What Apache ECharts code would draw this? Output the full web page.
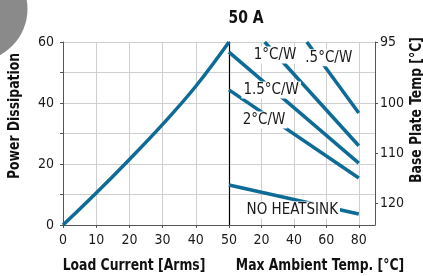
<!DOCTYPE html>
<html>
<head>
<meta charset="utf-8">
<script src="https://cdn.jsdelivr.net/npm/echarts@6/dist/echarts.min.js"></script>
<style>
  html, body { margin: 0; padding: 0; background: #fff; }
  #chart { width: 423px; height: 276px; }
</style>
</head>
<body>
<div id="chart"></div>
<script>
// curva de disipacion (corriente de carga -> potencia)
const loadCurrent = [0, 10, 20, 30, 40, 50];
const powerDiss = [0, 10.5, 21.5, 33, 45.5, 60];

// rectas de derating [temp ambiente, potencia]
const halfCW = [[48, 60], [80, 36.7]];
const oneCW = [[22, 60], [80, 26]];
const oneHalfCW = [[0, 56.7], [80, 20.3]];
const twoCW = [[0, 44.3], [80, 15.4]];
const noSink = [[0, 13.1], [80, 3.6]];

// eje derecho: temperatura de placa base
const baseTempLabels = ['95', '100', '110', '120'];
const baseTempAt = [60, 40, 23.5, 7];

const FONT = '"DejaVu Sans Condensed", "Liberation Sans Narrow", sans-serif';
const BLUE = '#0e6b96';
const GRID = '#cfcfcf';

var myChart = echarts.init(document.getElementById('chart'));

function lineaDerating(data, texto, pos) {
    return {
        type: 'line',
        xAxisIndex: 1,
        yAxisIndex: 1,
        data: data,
        symbol: 'none',
        lineStyle: { color: BLUE, width: 3.5 },
        markPoint: {
            symbol: 'rect',
            symbolSize: 1,
            itemStyle: { color: 'rgba(0,0,0,0)' },
            label: {
                show: true,
                position: 'inside',
                formatter: texto,
                color: '#1a1a1a',
                fontFamily: FONT,
                fontSize: 15,
                backgroundColor: '#fff',
                padding: [1, 2]
            },
            data: [{ coord: pos }]
        }
    };
}

// titulos de ejes, algo comprimidos para imitar la fuente condensada
function titulo(texto, x, y, rot, size) {
    return {
        type: 'text', x: x, y: y, rotation: rot || 0, scaleX: 0.86,
        style: { text: texto, font: 'bold ' + (size || 16) + 'px ' + FONT, fill: '#111', align: 'center', verticalAlign: 'middle' }
    };
}

var option = {
    animation: false,
    textStyle: { fontFamily: FONT },
    graphic: [
        { type: 'circle', shape: { cx: -25, cy: 9, r: 52.5 }, style: { fill: '#8a8a8a' }, z: -1 },
        titulo('50 A', 246, 18, 0, 18),
        titulo('Load Current [Arms]', 134, 266),
        titulo('Max Ambient Temp. [°C]', 320, 266),
        titulo('Power Dissipation', 15, 116, Math.PI / 2),
        titulo('Base Plate Temp [°C]', 417, 110, Math.PI / 2)
    ],
    grid: [
        { left: 63, top: 42, width: 166, height: 183 },
        { left: 229, top: 42, width: 146, height: 183 }
    ],
    xAxis: [
        {
            gridIndex: 0, type: 'value', min: 0, max: 50, interval: 10,
            axisLine: { lineStyle: { color: '#555' } },
            axisTick: { show: true, length: 3, lineStyle: { color: '#555' } },
            axisLabel: { fontSize: 14, color: '#1a1a1a', margin: 8 },
            splitLine: { lineStyle: { color: GRID } }
        },
        {
            gridIndex: 1, type: 'value', min: 0, max: 90, interval: 20,
            axisLine: { lineStyle: { color: '#555' } },
            axisTick: { show: true, length: 3, lineStyle: { color: '#555' } },
            axisLabel: { fontSize: 14, color: '#1a1a1a', margin: 8, showMinLabel: false, showMaxLabel: false },
            splitLine: { lineStyle: { color: GRID } }
        }
    ],
    yAxis: [
        {
            gridIndex: 0, type: 'value', min: 0, max: 60, interval: 10,
            axisLine: { show: true, lineStyle: { color: '#555' } },
            axisTick: { show: true, length: 3, lineStyle: { color: '#555' } },
            axisLabel: {
                fontSize: 14, color: '#1a1a1a', margin: 9,
                formatter: v => (v % 20 === 0 ? String(v) : '')
            },
            splitLine: { lineStyle: { color: GRID } }
        },
        {
            gridIndex: 1, type: 'value', min: 0, max: 60, interval: 10,
            axisLine: { show: true, lineStyle: { color: '#000', width: 1.2 } },
            axisTick: { show: false },
            axisLabel: { show: false },
            splitLine: { lineStyle: { color: GRID } }
        },
        {
            gridIndex: 1, type: 'value', min: 0, max: 60, position: 'right',
            axisLine: { show: true, lineStyle: { color: '#555' } },
            axisTick: { show: true, length: 3, customValues: baseTempAt, lineStyle: { color: '#555' } },
            axisLabel: {
                fontSize: 14, color: '#1a1a1a', margin: 5,
                customValues: baseTempAt,
                formatter: v => baseTempLabels[baseTempAt.indexOf(v)]
            },
            splitLine: { show: false }
        }
    ],
    series: [
        {
            type: 'line',
            xAxisIndex: 0,
            yAxisIndex: 0,
            data: loadCurrent.map((c, i) => [c, powerDiss[i]]),
            smooth: 0.4,
            symbol: 'none',
            lineStyle: { color: BLUE, width: 3.5 }
        },
        lineaDerating(halfCW, '.5°C/W', [61.5, 54.8]),
        lineaDerating(oneCW, '1°C/W', [28.4, 55.7]),
        lineaDerating(oneHalfCW, '1.5°C/W', [26, 44.3]),
        lineaDerating(twoCW, '2°C/W', [21.6, 34.4]),
        lineaDerating(noSink, 'NO HEATSINK', [39, 4.9])
    ]
};

option && myChart.setOption(option);
</script>
</body>
</html>
